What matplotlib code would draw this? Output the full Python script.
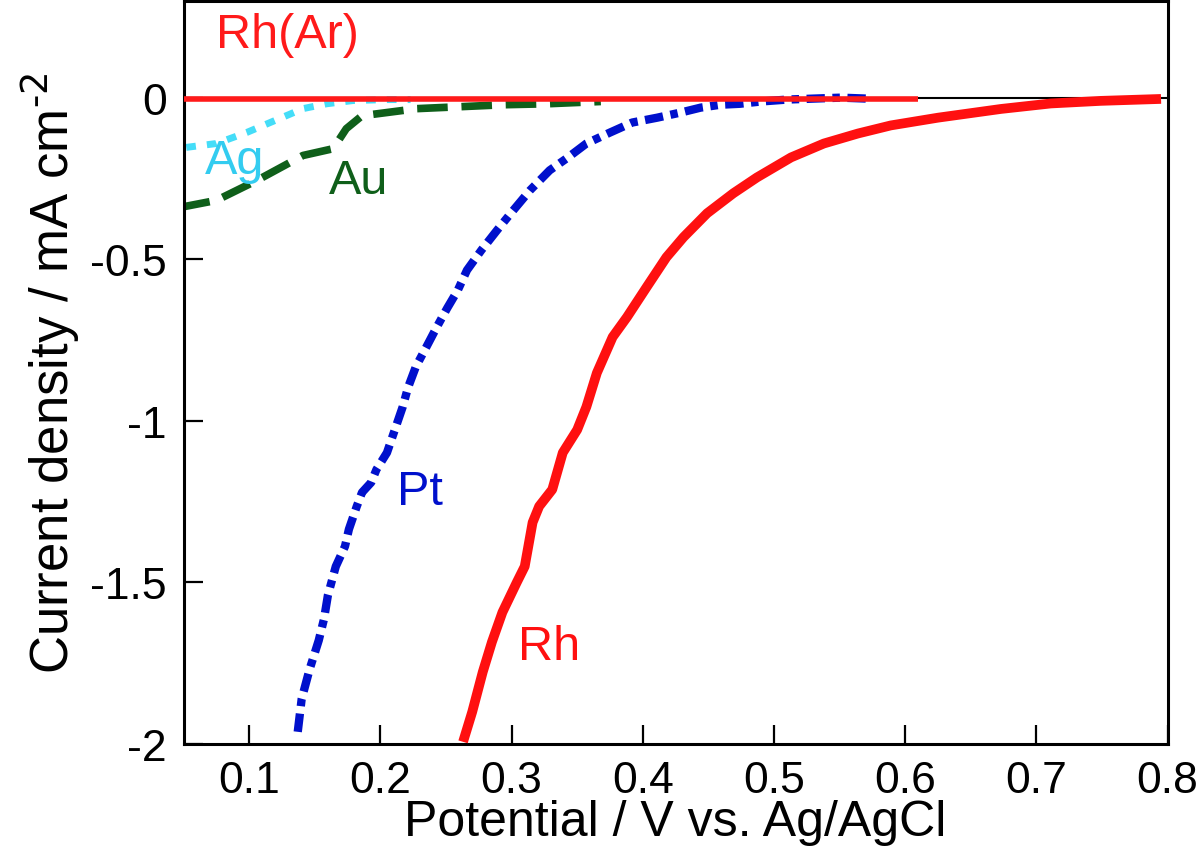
import numpy as np
import matplotlib
matplotlib.use("Agg")
import matplotlib.pyplot as plt
from matplotlib.ticker import FormatStrFormatter, FuncFormatter

plt.rcParams['font.family'] = ['Liberation Sans', 'DejaVu Sans']
plt.rcParams['mathtext.default'] = 'regular'
plt.rcParams['axes.unicode_minus'] = False

# Rh (solid red)
rh_x = [0.263, 0.270, 0.278, 0.285, 0.293, 0.304, 0.310, 0.316, 0.321, 0.331,
        0.339, 0.350, 0.357, 0.365, 0.377, 0.388, 0.403, 0.418, 0.431, 0.449,
        0.469, 0.487, 0.513, 0.538, 0.564, 0.589, 0.625, 0.673, 0.711, 0.749, 0.795]
rh_y = [-1.994, -1.901, -1.778, -1.685, -1.593, -1.500, -1.451, -1.315, -1.265, -1.213,
        -1.099, -1.028, -0.957, -0.852, -0.741, -0.679, -0.586, -0.494, -0.432, -0.358,
        -0.296, -0.247, -0.185, -0.142, -0.111, -0.086, -0.062, -0.035, -0.018, -0.010, -0.004]

# Pt (blue dash-dot)
pt_x = [0.137, 0.140, 0.146, 0.153, 0.157, 0.160, 0.166, 0.173,
        0.176, 0.182, 0.186, 0.193, 0.197, 0.205, 0.211, 0.217, 0.221, 0.227,
        0.235, 0.243, 0.251, 0.259, 0.266, 0.277, 0.289, 0.300, 0.314, 0.329,
        0.343, 0.357, 0.375, 0.392, 0.411, 0.429, 0.444, 0.459, 0.474, 0.490,
        0.510, 0.530, 0.551, 0.571]
pt_y = [-1.963, -1.861, -1.770, -1.680, -1.614, -1.540, -1.451, -1.389,
        -1.336, -1.265, -1.222, -1.191, -1.151, -1.099, -1.028, -0.957, -0.898, -0.833,
        -0.772, -0.710, -0.651, -0.596, -0.534, -0.472, -0.410, -0.355, -0.287, -0.225,
        -0.185, -0.142, -0.108, -0.077, -0.062, -0.046, -0.031, -0.022, -0.019, -0.012,
        -0.006, -0.003, 0.0, -0.003]

# Ag (cyan dotted)
ag_x = [0.052, 0.075, 0.098, 0.116, 0.141, 0.159, 0.179, 0.205, 0.223]
ag_y = [-0.154, -0.142, -0.108, -0.077, -0.034, -0.019, -0.009, -0.006, -0.006]

# Au (green dashed)
au_x = [0.047, 0.075, 0.106, 0.141, 0.164, 0.174, 0.186, 0.228, 0.261, 0.294, 0.327, 0.368]
au_y = [-0.340, -0.318, -0.256, -0.179, -0.158, -0.096, -0.056, -0.034, -0.028, -0.022, -0.019, -0.012]

# Rh under Ar (flat red)
rhar_x = [0.05, 0.61]
rhar_y = [-0.004, -0.004]

fig = plt.figure(figsize=(12, 8.62), dpi=100)
ax = fig.add_axes([0.153, 0.136, 0.820, 0.862])

ax.axhline(0, color="black", lw=1.5, zorder=1)
ax.plot(rhar_x, rhar_y, color="#ff1a1a", lw=4, solid_capstyle="butt", zorder=3)
ax.plot(au_x, au_y, color="#0f5f1a", lw=5.5, dashes=(4, 1.8), zorder=2)
ax.plot(ag_x, ag_y, color="#44ddf8", lw=5, dashes=(1.4, 1.6), zorder=2)
ax.plot(pt_x, pt_y, color="#0010cc", lw=6, dashes=(2.2, 0.9, 0.9, 0.9), zorder=2)
ax.plot(rh_x, rh_y, color="#ff1010", lw=7, solid_capstyle="butt", zorder=4)

ax.text(0.075, 0.195, "Rh(Ar)", color="#ff1a1a", fontsize=35, ha="left", va="center")
ax.text(0.066, -0.195, "Ag", color="#33ccf0", fontsize=35, ha="left", va="center")
ax.text(0.161, -0.255, "Au", color="#0f5f1a", fontsize=35, ha="left", va="center")
ax.text(0.213, -1.22, "Pt", color="#0010cc", fontsize=35, ha="left", va="center")
ax.text(0.305, -1.70, "Rh", color="#ff1010", fontsize=35, ha="left", va="center")

ax.set_xlim(0.05, 0.8)
ax.set_ylim(-2, 0.3)
ax.set_xticks(np.arange(0.1, 0.81, 0.1))
ax.set_yticks([0, -0.5, -1, -1.5, -2])
ax.xaxis.set_major_formatter(FormatStrFormatter("%.1f"))
ax.yaxis.set_major_formatter(FuncFormatter(lambda v, p: "%g" % v))
ax.tick_params(direction="in", length=14, width=1.6, labelsize=32, pad=12,
               top=False, right=False)

for s in ax.spines.values():
    s.set_linewidth(2.2)

ax.set_xlabel("Potential / V vs. Ag/AgCl", fontsize=36, labelpad=-2)
ax.set_ylabel(r"Current density / mA cm$^{\text{-2}}$", fontsize=38, labelpad=6)

fig.savefig("out.png", dpi=100)
